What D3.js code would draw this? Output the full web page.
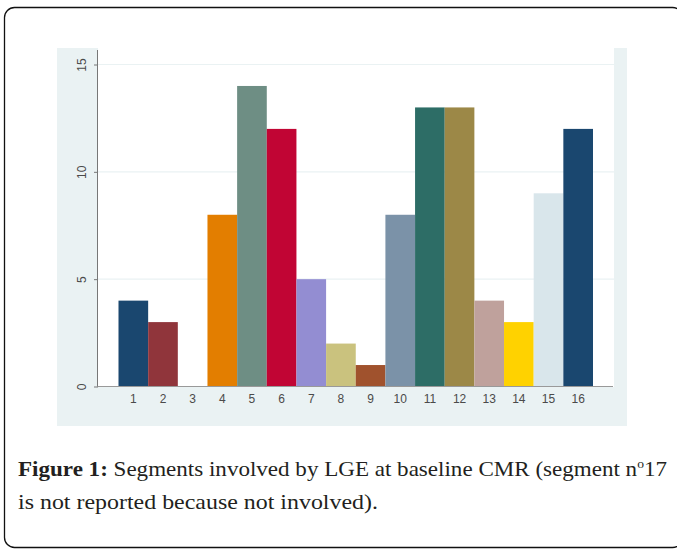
<!DOCTYPE html>
<html lang="en">
<head>
    <meta charset="UTF-8">
    <title>Segments involved by LGE</title>
    <script src="https://d3js.org/d3.v7.min.js"></script>
    <style>
        body { margin: 0; background: #fff; }
        .tick text { font-family: "Liberation Sans", Arial, sans-serif; font-size: 12px; fill: #4a4a4a; }
        .caption { font-family: "Liberation Serif", "Times New Roman", serif; font-size: 22px; fill: #231f20; }
    </style>
</head>
<body>
    <svg width="677" height="552"></svg>
    <script>
        const segments = ["1","2","3","4","5","6","7","8","9","10","11","12","13","14","15","16"];
        const counts = [4, 3, 0, 8, 14, 12, 5, 2, 1, 8, 13, 13, 4, 3, 9, 12];
        const colors = ["#1a476f","#90353b","#55752f","#e37e00","#6e8e84","#c10534","#938dd2","#cac27e",
                        "#a0522d","#7b92a8","#2d6d66","#9c8847","#bfa19c","#ffd200","#d9e6eb","#1a476f"];
        const yTicks = [0, 5, 10, 15];

        const svg = d3.select("svg");

        // outer frame
        svg.append("rect")
            .attr("x", 4.5).attr("y", 7.5)
            .attr("width", 678).attr("height", 540)
            .attr("rx", 10)
            .attr("fill", "none")
            .attr("stroke", "#111")
            .attr("stroke-width", 1.3);

        // graph region + plot region
        svg.append("rect").attr("x", 57).attr("y", 48).attr("width", 570).attr("height", 378).attr("fill", "#eaf2f3");
        svg.append("rect").attr("x", 98).attr("y", 48).attr("width", 516).attr("height", 339).attr("fill", "#fff");

        const x = d3.scaleBand().domain(segments).range([118.5, 593]).padding(0);
        const y = d3.scaleLinear().domain([0, 15]).range([386.5, 64.5]);

        // gridlines
        svg.append("g").selectAll("line")
            .data(yTicks.filter(d => d > 0))
            .join("line")
            .attr("x1", 98).attr("x2", 614)
            .attr("y1", d => y(d)).attr("y2", d => y(d))
            .attr("stroke", "#eaf2f3").attr("stroke-width", 1.2);

        // bars
        svg.append("g").selectAll("rect")
            .data(counts)
            .join("rect")
            .attr("x", (d, i) => x(segments[i]))
            .attr("y", d => y(d))
            .attr("width", x.bandwidth())
            .attr("height", d => y(0) - y(d))
            .attr("fill", (d, i) => colors[i]);

        // y axis
        const yAxis = svg.append("g")
            .attr("transform", "translate(98,0)")
            .call(d3.axisLeft(y).tickValues(yTicks).tickSize(4).tickPadding(6));
        yAxis.select(".domain").remove();
        yAxis.selectAll(".tick line").attr("stroke", "#777");
        yAxis.selectAll(".tick text")
            .attr("text-anchor", "middle")
            .attr("x", null).attr("dy", null)
            .attr("transform", "translate(-15,0) rotate(-90)")
            .attr("dominant-baseline", "middle");
        svg.append("line")
            .attr("x1", 97.5).attr("x2", 97.5)
            .attr("y1", 50).attr("y2", 387)
            .attr("stroke", "#777");

        // x axis
        const xAxis = svg.append("g")
            .attr("transform", "translate(0,386.5)")
            .call(d3.axisBottom(x).tickSize(0).tickPadding(8));
        xAxis.select(".domain").remove();
        svg.append("line")
            .attr("x1", 97.5).attr("x2", 613)
            .attr("y1", 386.5).attr("y2", 386.5)
            .attr("stroke", "#999");

        // caption
        const cap1 = svg.append("text").attr("class", "caption").attr("x", 18).attr("y", 476)
            .attr("textLength", 649).attr("lengthAdjust", "spacingAndGlyphs");
        cap1.append("tspan").attr("font-weight", "bold").text("Figure 1:");
        cap1.append("tspan").text(" Segments involved by LGE at baseline CMR (segment n");
        cap1.append("tspan").attr("font-size", 13).attr("dy", -8).text("o");
        cap1.append("tspan").attr("dy", 8).text("17");

        svg.append("text").attr("class", "caption").attr("x", 18).attr("y", 509)
            .attr("textLength", 360).attr("lengthAdjust", "spacingAndGlyphs")
            .text("is not reported because not involved).");
    </script>
</body>
</html>
